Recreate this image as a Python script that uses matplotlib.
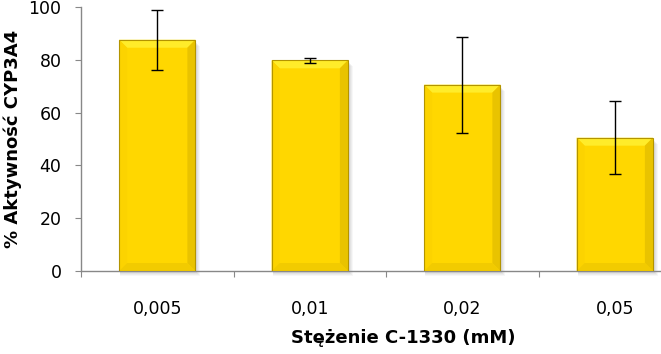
import matplotlib
matplotlib.use("Agg")
import matplotlib.pyplot as plt
from matplotlib.patches import Polygon, Rectangle
import numpy as np

categories = ["0,005", "0,01", "0,02", "0,05"]
values = [87.6, 79.8, 70.6, 50.5]
errors = [11.3, 1.0, 18.2, 13.8]
yticks = [0, 20, 40, 60, 80, 100]

plt.rcParams['font.family'] = ['DejaVu Sans']

W, H = 661, 354
fig = plt.figure(figsize=(W / 100, H / 100), dpi=100)
ax = fig.add_axes([81 / W, (H - 271) / H, (691 - 81) / W, (271 - 7) / H])

x = np.arange(len(categories))
bw = 0.5
bars = ax.bar(x, values, width=bw, color='#FFD700', edgecolor='none',
              linewidth=0, zorder=3)
ax.set_xlim(-0.5, len(categories) - 0.5)
ax.set_ylim(0, 100)

pxx = (ax.get_xlim()[1] - ax.get_xlim()[0]) / ax.bbox.width
pxy = (ax.get_ylim()[1] - ax.get_ylim()[0]) / ax.bbox.height

for b in bars:
    x0, y0 = b.get_x(), b.get_y()
    w, h = b.get_width(), b.get_height()
    x1, y1 = x0 + w, y0 + h
    # soft shadow
    for k, a in [(5, 0.05), (4, 0.07), (3, 0.08), (2, 0.10)]:
        ax.add_patch(Rectangle((x0 + 1 * pxx, y0 - k * pxy), w + (k - 1) * pxx,
                               h - 1 * pxy, facecolor='#707070', alpha=a,
                               edgecolor='none', zorder=2, clip_on=False))
    bx, by = 8 * pxx, 8 * pxy
    ax.add_patch(Polygon([(x0, y1), (x1, y1), (x1 - bx, y1 - by), (x0 + bx, y1 - by)],
                         facecolor='#FFEC2A', edgecolor='none', zorder=3.5))
    ax.add_patch(Polygon([(x0, y1), (x0 + bx, y1 - by), (x0 + bx, y0 + by), (x0, y0)],
                         facecolor='#FCD300', edgecolor='none', zorder=3.5))
    ax.add_patch(Polygon([(x1, y1), (x1 - bx, y1 - by), (x1 - bx, y0 + by), (x1, y0)],
                         facecolor='#E9C300', edgecolor='none', zorder=3.5))
    ax.add_patch(Polygon([(x0, y0), (x0 + bx, y0 + by), (x1 - bx, y0 + by), (x1, y0)],
                         facecolor='#F2CB00', edgecolor='none', zorder=3.5))
    ax.add_patch(Rectangle((x0, y0), w, h, facecolor='none', edgecolor='#B39400',
                           linewidth=0.8, zorder=3.6))

ax.errorbar(x, values, yerr=errors, fmt='none', ecolor='black', elinewidth=1.0,
            capsize=4, capthick=1.0, zorder=5)

for s in ['top', 'right']:
    ax.spines[s].set_visible(False)
for s in ['left', 'bottom']:
    ax.spines[s].set_color('#888888')
    ax.spines[s].set_linewidth(1.0)

ax.set_yticks(yticks)
ax.set_yticklabels([str(v) for v in yticks])
ax.set_xticks(np.arange(len(categories) + 1) - 0.5, minor=False)
ax.set_xticklabels([])
ax.set_xticks(x, minor=True)
ax.set_xticklabels(categories, minor=True)
ax.tick_params(axis='x', which='minor', length=0, pad=21, labelsize=12.5)
ax.tick_params(axis='x', which='major', length=4, color='#888888', direction='out')
ax.tick_params(axis='y', length=4, color='#888888', direction='out', labelsize=12.5, pad=10)

ax.set_ylabel('% Aktywność CYP3A4', fontsize=13, fontweight='bold')
ax.set_xlabel('Stężenie C-1330 (mM)', fontsize=13, fontweight='bold')
ax.yaxis.set_label_coords(-59 / 610, 0.5)
ax.xaxis.set_label_coords((403 - 81) / 610, -(329 - 271) / 264, transform=ax.transAxes)
ax.xaxis.label.set_va('top')

fig.savefig('out.png', dpi=100)
